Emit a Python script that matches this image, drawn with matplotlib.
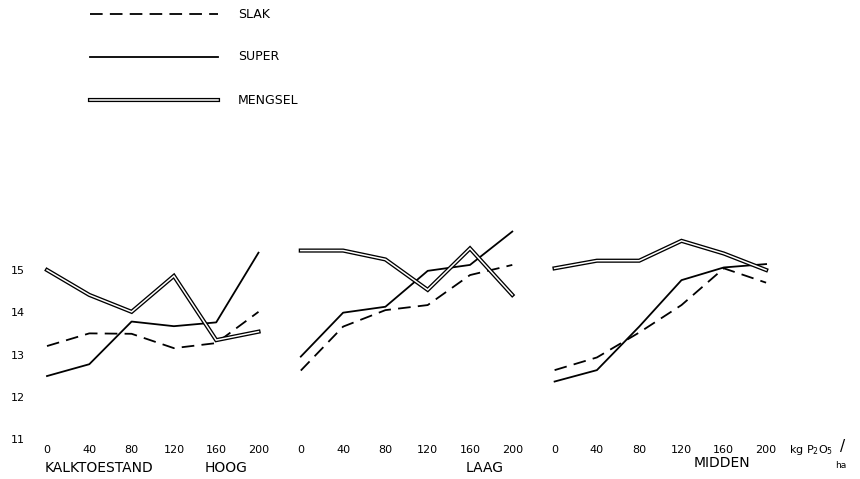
import matplotlib
matplotlib.use("Agg")
import matplotlib.pyplot as plt
from matplotlib.lines import Line2D

plt.rcParams['font.family'] = ['DejaVu Sans']

# doses (kg P2O5/ha) and the three lime levels
doses = [0, 40, 80, 120, 160, 200]
levels = ['HOOG', 'LAAG', 'MIDDEN']
series_names = ['SLAK', 'SUPER', 'MENGSEL']

slak_hoog = [13.20, 13.50, 13.49, 13.15, 13.27, 14.01]
slak_laag = [12.62, 13.66, 14.05, 14.17, 14.88, 15.12]
slak_midden = [12.63, 12.93, 13.52, 14.17, 15.04, 14.70]

super_hoog = [12.49, 12.77, 13.78, 13.67, 13.76, 15.41]
super_laag = [12.95, 13.99, 14.13, 14.98, 15.12, 15.91]
super_midden = [12.36, 12.63, 13.66, 14.76, 15.06, 15.14]

mengsel_hoog = [15.00, 14.41, 14.01, 14.86, 13.34, 13.54]
mengsel_laag = [15.46, 15.46, 15.25, 14.53, 15.51, 14.41]
mengsel_midden = [15.04, 15.22, 15.22, 15.69, 15.39, 15.00]

y_ticks = [11, 12, 13, 14, 15]

W, H = 860, 479
fig = plt.figure(figsize=(W / 100, H / 100), dpi=100)

# axis pixel layout: dose 0 of first panel at x=47 px, 1.0575 px per unit
px_per_unit = 1.0575
x0_px = 47
ax_left_px, ax_right_px = 28, 800
ax_bottom_px, ax_top_px = 439, 227.75  # y=11 and y=16 from top
ax = fig.add_axes([ax_left_px / W, 1 - ax_bottom_px / H,
                   (ax_right_px - ax_left_px) / W, (ax_bottom_px - ax_top_px) / H])
ax.set_xlim((ax_left_px - x0_px) / px_per_unit, (ax_right_px - x0_px) / px_per_unit)
ax.set_ylim(11, 16)
offset = 240

slak = [slak_hoog, slak_laag, slak_midden]
sup = [super_hoog, super_laag, super_midden]
meng = [mengsel_hoog, mengsel_laag, mengsel_midden]

xt, xl = [], []
for k in range(3):
    xs = [offset * k + d for d in doses]
    ax.plot(xs, slak[k], color='black', lw=1.3, ls=(0, (7, 4)), zorder=3)
    ax.plot(xs, sup[k], color='black', lw=1.3, zorder=3)
    ax.plot(xs, meng[k], color='black', lw=3.0, solid_joinstyle='miter', zorder=4)
    ax.plot(xs, meng[k], color='white', lw=1.1, solid_joinstyle='miter', zorder=5)
    xt += xs
    xl += [str(d) for d in doses]

ax.set_xticks(xt)
ax.set_xticklabels(xl, fontsize=8)
ax.set_yticks(y_ticks)
ax.set_yticklabels([str(v) for v in y_ticks], fontsize=8)
ax.tick_params(axis='x', length=0, pad=4)
ax.tick_params(axis='y', length=0, pad=2)
for s in ax.spines.values():
    s.set_visible(False)


def fx(px):
    return px / W


def fy(py):
    return 1 - py / H


# lime level labels
fig.text(fx(45), fy(468), 'KALKTOESTAND', fontsize=10, va='center', ha='left')
fig.text(fx(205), fy(468), levels[0], fontsize=10, va='center', ha='left')
fig.text(fx(485), fy(468), levels[1], fontsize=10, va='center', ha='center')
fig.text(fx(722), fy(463), levels[2], fontsize=10, va='center', ha='center')

# unit
fig.text(fx(789), fy(450), r'kg P$_2$O$_5$', fontsize=8, va='center', ha='left')
fig.text(fx(840), fy(446), '/', fontsize=11, va='center', ha='left')
fig.text(fx(841), fy(466), 'ha', fontsize=6.5, va='center', ha='center')

# legend drawn in figure pixels
leg_y = [14, 57, 100]
lx0, lx1, ltx = 90, 218, 238
fig.add_artist(Line2D([fx(lx0), fx(lx1)], [fy(leg_y[0])] * 2, color='black', lw=1.3, ls=(0, (7, 4))))
fig.add_artist(Line2D([fx(lx0), fx(lx1)], [fy(leg_y[1])] * 2, color='black', lw=1.3))
fig.add_artist(Line2D([fx(lx0), fx(lx1)], [fy(leg_y[2])] * 2, color='black', lw=3.0))
fig.add_artist(Line2D([fx(lx0), fx(lx1)], [fy(leg_y[2])] * 2, color='white', lw=1.1))
for name, yy in zip(series_names, leg_y):
    fig.text(fx(ltx), fy(yy), name, fontsize=9, va='center', ha='left')

fig.savefig('out.png', dpi=100)
